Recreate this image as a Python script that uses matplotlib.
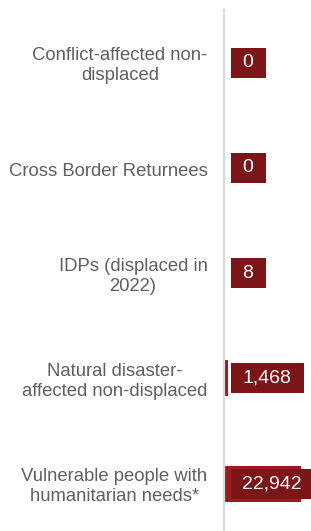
import matplotlib
matplotlib.use("Agg")
import matplotlib.pyplot as plt
from matplotlib.patches import Rectangle
from matplotlib.transforms import IdentityTransform

# Datos del grafico
categories = [
    "Conflict-affected non-\ndisplaced",
    "Cross Border Returnees",
    "IDPs (displaced in\n2022)",
    "Natural disaster-\naffected non-displaced",
    "Vulnerable people with\nhumanitarian needs*",
]
values = [0, 0, 8, 1468, 22942]
value_labels = ["0", "0", "8", "1,468", "22,942"]

BAR_COLOR = "#9e1b20"
BOX_COLOR = "#7c1518"
TEXT_GRAY = "#5f5f5f"

plt.rcParams['font.family'] = ['Liberation Sans', 'DejaVu Sans']

W, H = 311, 531
fig = plt.figure(figsize=(W / 100, H / 100), dpi=100)
ax = fig.add_axes([223.5 / W, 0, (W - 223.5) / W, 521 / H])
ax.set_xlim(0, 25900)
ax.set_ylim(4.45, -0.5)

for s in ["top", "right", "bottom"]:
    ax.spines[s].set_visible(False)
ax.spines["left"].set_color("#d9d9d9")
ax.spines["left"].set_linewidth(1.6)
ax.set_xticks([])
ax.set_yticks([])

ax.barh(range(len(values)), values, height=0.34, color=BAR_COLOR, zorder=2)

# Etiquetas de categoria
for i, cat in enumerate(categories):
    ax.text(-16 / 87.5, i + 0.03, cat, transform=ax.get_yaxis_transform(),
            ha="right", va="center", multialignment="center",
            fontsize=13.3, color=TEXT_GRAY, linespacing=1.2)

# Cajas de valores
fig.canvas.draw()
renderer = fig.canvas.get_renderer()
for i, lab in enumerate(value_labels):
    t = ax.text((242 - 223.5) / 87.5, i, lab, transform=ax.get_yaxis_transform(),
                ha="left", va="center", fontsize=14, color="white", zorder=5)
    bb = t.get_window_extent(renderer)
    yc = ax.transData.transform((0, i))[1]
    rect = Rectangle((231, yc - 15), bb.width + 24, 30, transform=IdentityTransform(),
                     facecolor=BOX_COLOR, edgecolor="none", zorder=4)
    ax.add_patch(rect)
    rect.set_clip_on(False)

ax.set_xlim(0, 25900)
ax.set_ylim(4.45, -0.5)

fig.savefig("out.png", dpi=100)
